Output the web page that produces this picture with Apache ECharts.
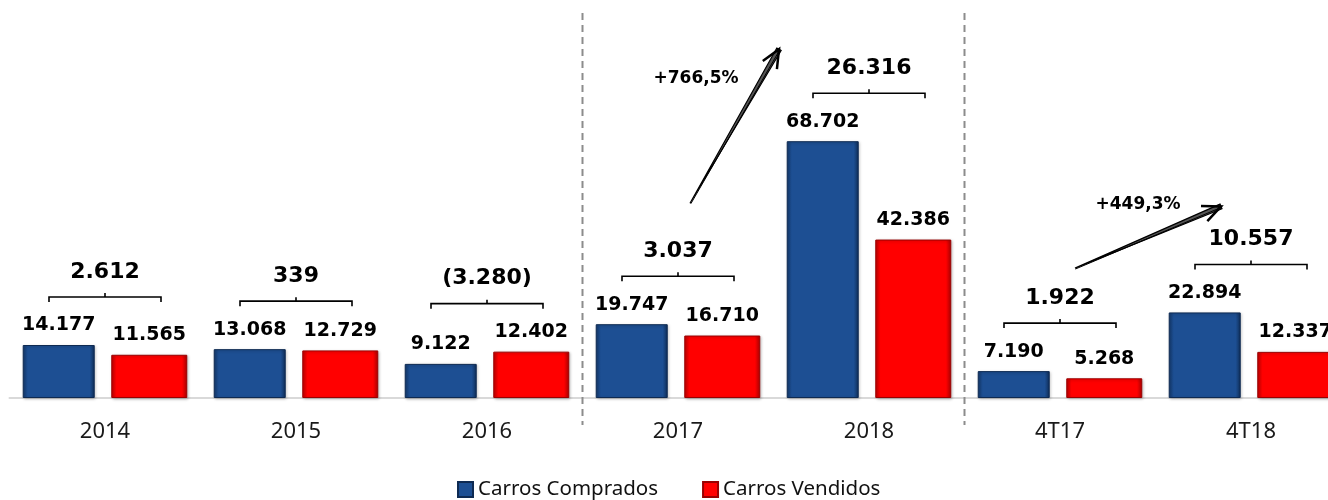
<!DOCTYPE html>
<html>
<head>
<meta charset="utf-8">
<script src="https://cdn.jsdelivr.net/npm/echarts@6/dist/echarts.min.js"></script>
<style>
    html, body { margin: 0; padding: 0; background: #fff; }
</style>
</head>
<body>
<div id="main" style="width: 1328px;height:500px;"></div>
<script type="text/javascript">

    // categories and values
    var categories = ['2014', '2015', '2016', '2017', '2018', '4T17', '4T18'];
    var comprados = [14177, 13068, 9122, 19747, 68702, 7190, 22894];
    var vendidos = [11565, 12729, 12402, 16710, 42386, 5268, 12337];
    // dashed separators after these categories
    var separatorAfter = ['2016', '2018'];
    // growth arrows: difference of one category against another
    var growthFrom = ['2017', '4T17'];
    var growthTo = ['2018', '4T18'];

    function fmt(n) {
        var s = String(Math.abs(n)).replace(/\B(?=(\d{3})+(?!\d))/g, '.');
        return n < 0 ? '(' + s + ')' : s;
    }

    var diffs = comprados.map(function (v, i) { return v - vendidos[i]; });
    var bracketData = categories.map(function (c, i) {
        return [i, Math.max(comprados[i], vendidos[i]), diffs[i]];
    });
    var arrowData = growthFrom.map(function (c, k) {
        var a = categories.indexOf(c), b = categories.indexOf(growthTo[k]);
        return [a, b, k];
    });
    function growthLabel(k) {
        var a = categories.indexOf(growthFrom[k]), b = categories.indexOf(growthTo[k]);
        var g = (diffs[b] - diffs[a]) / diffs[a] * 100;
        return '+' + g.toFixed(1).replace('.', ',') + '%';
    }

    // arrow layout in px: [start dx, start dy above bracket, tip dx, tip dy above bracket, label dx, label dy from tip]
    var arrowLayout = [[12, 73, -90, 44, -83, 29], [15, 55, -30, 58, -83, -2]];

    var blueFill = new echarts.graphic.LinearGradient(0, 0, 1, 0, [
        {offset: 0, color: '#143a6e'}, {offset: 0.07, color: '#1d4f93'},
        {offset: 0.93, color: '#1d4f93'}, {offset: 1, color: '#0f2d57'}
    ]);
    var redFill = new echarts.graphic.LinearGradient(0, 0, 1, 0, [
        {offset: 0, color: '#c40000'}, {offset: 0.07, color: '#ff0000'},
        {offset: 0.93, color: '#ff0000'}, {offset: 1, color: '#a80000'}
    ]);

    function bracketY(api, i) {
        var v = Math.max(comprados[i], vendidos[i]);
        return api.coord([i, v])[1] - 48;
    }

    var myChart = echarts.init(document.getElementById('main'));

    var option = {
        animation: false,
        textStyle: {fontFamily: 'DejaVu Sans'},
        grid: {left: 9.5, width: 1337, top: 13, bottom: 102, outerBoundsMode: 'none', containLabel: false},
        legend: {
            data: ['Carros Comprados', 'Carros Vendidos'],
            left: 452, top: 474,
            itemWidth: 15, itemHeight: 15, itemGap: 44,
            icon: 'rect',
            textStyle: {fontFamily: 'Noto Sans', fontSize: 20.5, color: '#111'}
        },
        xAxis: {
            type: 'category',
            data: categories,
            axisLine: {lineStyle: {color: '#d9d9d9', width: 2}},
            axisTick: {show: false},
            axisLabel: {fontFamily: 'Noto Sans', fontSize: 22, color: '#1a1a1a', margin: 23}
        },
        yAxis: {type: 'value', min: 0, max: 103000, show: false, splitLine: {show: false}},
        series: [
            {
                name: 'Carros Comprados',
                type: 'bar',
                data: comprados,
                barWidth: 72,
                barGap: '23%',
                itemStyle: {color: blueFill, borderColor: '#0e2a52', borderWidth: 1,
                    shadowColor: 'rgba(0,0,0,0.25)', shadowBlur: 3, shadowOffsetX: 1, shadowOffsetY: 1},
                label: {show: true, position: 'top', distance: 10, formatter: function (p) { return fmt(p.value); },
                    fontFamily: 'DejaVu Sans', fontWeight: 'bold', fontSize: 19, color: '#000'}
            },
            {
                name: 'Carros Vendidos',
                type: 'bar',
                data: vendidos,
                barWidth: 76,
                itemStyle: {color: redFill, borderColor: '#9a0000', borderWidth: 1,
                    shadowColor: 'rgba(0,0,0,0.25)', shadowBlur: 3, shadowOffsetX: 1, shadowOffsetY: 1},
                label: {show: true, position: 'top', distance: 10, formatter: function (p) { return fmt(p.value); },
                    fontFamily: 'DejaVu Sans', fontWeight: 'bold', fontSize: 19, color: '#000'}
            },
            {
                name: 'diff',
                type: 'custom',
                silent: true,
                clip: false,
                data: bracketData,
                encode: {x: 0, y: 1},
                renderItem: function (params, api) {
                    var p = api.coord([api.value(0), api.value(1)]);
                    var y = p[1] - 48, cx = p[0], hw = 56;
                    return {
                        type: 'group',
                        children: [
                            {type: 'polyline', shape: {points: [[cx - hw, y + 5], [cx - hw, y], [cx + hw, y], [cx + hw, y + 5]]},
                                style: {stroke: '#000', lineWidth: 1.6, fill: null}},
                            {type: 'line', shape: {x1: cx, y1: y, x2: cx, y2: y - 4}, style: {stroke: '#000', lineWidth: 1.6}},
                            {type: 'text', style: {text: fmt(api.value(2)), x: cx, y: y - 25, align: 'center', verticalAlign: 'middle',
                                fontFamily: 'DejaVu Sans', fontWeight: 'bold', fontSize: 22, fill: '#000'}}
                        ]
                    };
                }
            },
            {
                name: 'sep',
                type: 'custom',
                silent: true,
                clip: false,
                data: separatorAfter.map(function (c) { return [categories.indexOf(c), 0]; }),
                encode: {x: 0, y: 1},
                renderItem: function (params, api) {
                    var p = api.coord([api.value(0), 0]);
                    var x = p[0] + api.size([1, 0])[0] / 2;
                    return {type: 'line', shape: {x1: x, y1: params.coordSys.y, x2: x, y2: p[1] + 27},
                        style: {stroke: '#8c8c8c', lineWidth: 2, lineDash: [7, 5]}};
                }
            },
            {
                name: 'growth',
                type: 'custom',
                silent: true,
                clip: false,
                data: arrowData,
                encode: {x: 0},
                renderItem: function (params, api) {
                    var a = api.value(0), b = api.value(1), k = api.value(2);
                    var L = arrowLayout[k];
                    var ca = api.coord([a, 0])[0], cb = api.coord([b, 0])[0];
                    var x1 = ca + L[0], y1 = bracketY(api, a) - L[1];
                    var x2 = cb + L[2], y2 = bracketY(api, b) - L[3];
                    var ang = Math.atan2(y2 - y1, x2 - x1);
                    var nx = -Math.sin(ang), ny = Math.cos(ang);
                    var head = 20, spread = 0.42;
                    var h1 = [x2 - head * Math.cos(ang - spread), y2 - head * Math.sin(ang - spread)];
                    var h2 = [x2 - head * Math.cos(ang + spread), y2 - head * Math.sin(ang + spread)];
                    return {
                        type: 'group',
                        children: [
                            {type: 'polygon', shape: {points: [[x2 + nx * 2.5, y2 + ny * 2.5], [x1, y1], [x2 - nx * 2.5, y2 - ny * 2.5]]},
                                style: {stroke: '#000', lineWidth: 1.2, fill: '#555'}},
                            {type: 'line', shape: {x1: x1 + nx * 1, y1: y1 + ny * 1, x2: x2 + nx * 1, y2: y2 + ny * 1}, style: {stroke: '#000', lineWidth: 1}},
                            {type: 'polyline', shape: {points: [h1, [x2, y2], h2]}, style: {stroke: '#000', lineWidth: 2.5, fill: null}},
                            {type: 'text', style: {text: growthLabel(k), x: x2 + L[4], y: y2 + L[5], align: 'center', verticalAlign: 'middle',
                                fontFamily: 'DejaVu Sans', fontWeight: 'bold', fontSize: 17, fill: '#000'}}
                        ]
                    };
                }
            }
        ]
    };

    myChart.setOption(option);

</script>
</body>
</html>
